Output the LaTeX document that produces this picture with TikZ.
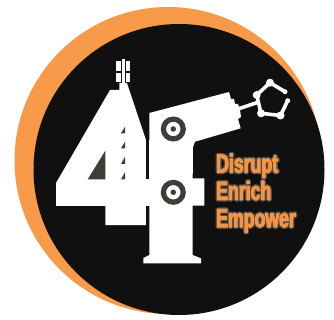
\documentclass[tikz,border=0pt]{standalone}
\usepackage{fontspec}
\setmainfont[FakeStretch=0.68]{Liberation Sans}
\definecolor{orangeback}{HTML}{F79A4A}
\definecolor{disc}{HTML}{101010}
\definecolor{ringc}{HTML}{403C38}
\definecolor{txt}{HTML}{F59343}
\newcommand{\halotext}[1]{\rlap{\special{pdf:code 2 Tr 1 j 1 J 0.30 0.30 0.29 RG 3.6 w}#1\special{pdf:code 0 Tr}}\rlap{\special{pdf:code 2 Tr 1 j 1 J 0.96 0.58 0.26 RG 1 w}#1\special{pdf:code 0 Tr}}\phantom{#1}}
\tikzset{
 white part/.style={fill=white,draw=none},
 hole/.style={fill=disc,draw=none},
 ring mark/.style={draw=ringc,line width=5.2pt,fill=white,circle,minimum size=19.8pt,inner sep=0pt},
 ring dot/.style={fill=ringc,circle,minimum size=5.5pt,inner sep=0pt},
 claw node/.style={fill=white,circle,minimum size=8pt,inner sep=0pt},
 claw bar/.style={draw=white,line width=3.6pt},
 motto/.style={text=txt,font=\bfseries\fontsize{26}{27.3}\selectfont,anchor=north west,align=left,inner sep=0pt}
}
\begin{document}
\begin{tikzpicture}[x=1pt,y=-1pt]
\useasboundingbox (0,0) rectangle (334,320);
\fill[orangeback] (168,160.5) circle (153.5);
\fill[disc] (179,169.5) circle (145.5);
% figure 4
\fill[white part] (110,90) -- (119.3,90) -- (119.3,83) -- (127,83) -- (129.3,90) -- (146,140) -- (150,140) -- (150,206) -- (146,206) -- (146,225) -- (105.3,225) -- (105.3,206) -- (56,206) -- (56,183) -- cycle;
\fill[ringc] (105.3,150.7) -- (105.3,179.3) -- (87.7,179.3) -- cycle;
\fill[hole] (145.6,136) -- (149.3,136) -- (149.3,179.3) -- (145.6,179.3) -- cycle;
\fill[hole] (145.6,206) -- (149.3,206) -- (149.3,250) -- (145.6,250) -- cycle;
\foreach \y/\h in {126.7/6.6,141.7/6.6,156.7/7.3,172.3/7} {
 \fill[ringc] (125,\y) -- (121,\y+\h) -- (125,\y+\h) -- cycle;
}
% antenna
\fill[white part] (116,60.7) rectangle (120.7,70.7);
\fill[white part] (121.7,59) rectangle (125,84);
\fill[white part] (126,60.7) rectangle (130,70.7);
\fill[white part] (116,72.7) rectangle (120.7,81.7);
\fill[white part] (126,72.7) rectangle (130,81.7);
% figure f with robot arm
\fill[white part] (149.3,113) -- (229,92) -- (231,99) -- (234,99) -- (235,104) -- (238,104) -- (240,110) -- (241,117) -- (238,119) -- (240.7,128.3) -- (195,141.7) -- (193,147) -- (192.7,178.3) -- (204.3,178.3) -- (204.3,205.7) -- (192.7,205.7) -- (192.7,255) -- (201,258.3) -- (201,263.3) -- (143.3,263.3) -- (143.3,258) -- (149.3,255) -- cycle;
\fill[white part] (146,179.3) rectangle (150,206);
\node[ring mark] (upper) at (173.3,129) {};
\node[ring dot] at (upper.center) {};
\node[ring mark] (lower) at (173.3,192.3) {};
\node[ring dot] at (lower.center) {};
% claw
\node[claw node] (c1) at (256.7,95) {};
\node[claw node] (c2) at (270,82.7) {};
\node[claw node,minimum size=5pt] (c3) at (285,91.7) {};
\node[claw node,minimum size=5pt] (c4) at (287.7,100.7) {};
\node[claw node] (c5) at (280.5,115.5) {};
\node[claw node] (c7) at (261,113.3) {};
\coordinate (armend) at (238,109);
\coordinate (hub) at (258,102.3);
\draw[claw bar] (armend) -- (hub);
\draw[claw bar,line join=round] (c3.center) -- (c2.center) -- (c1.center) -- (c7.center) -- (c5.center) -- (c4.center);
% text
\node[motto] (words) at (216,153.5) {\halotext{Disrupt}\\\halotext{Enrich}\\\halotext{Empower}};
\end{tikzpicture}
\end{document}
